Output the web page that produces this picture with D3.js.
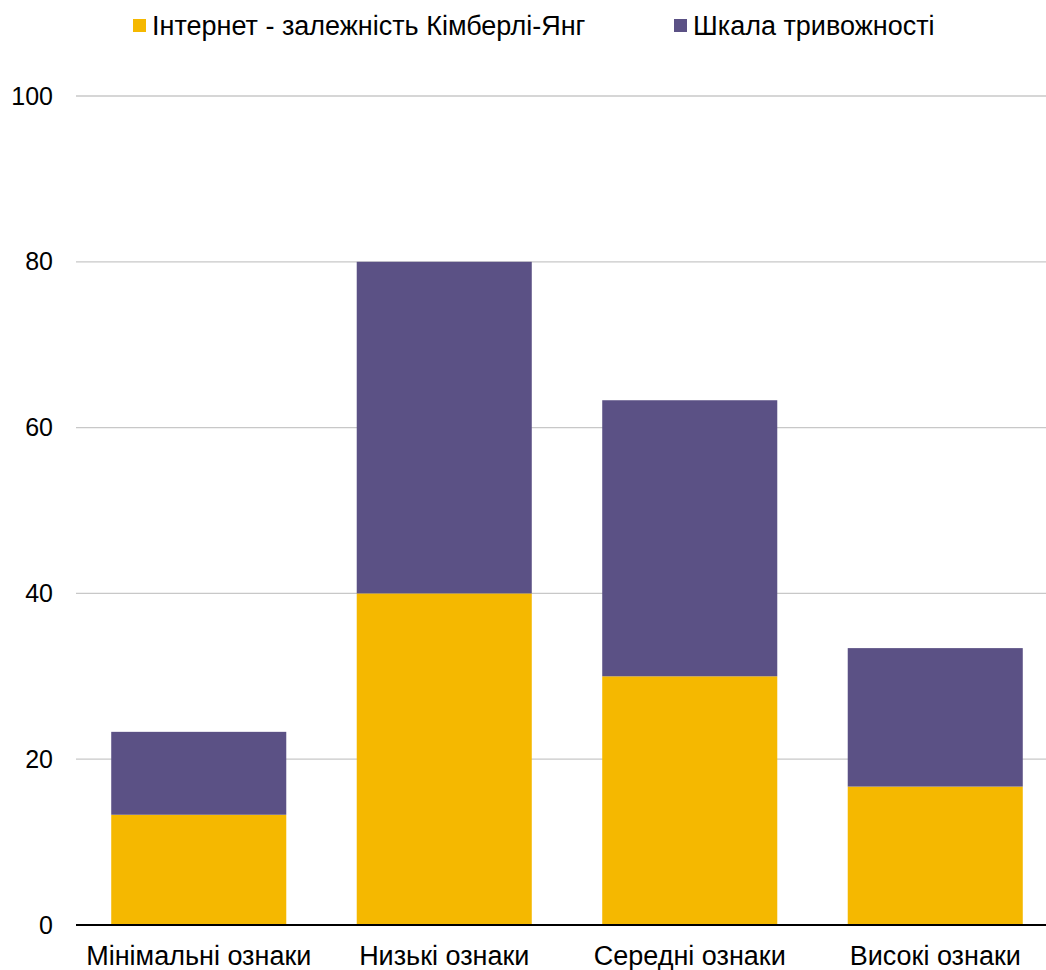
<!DOCTYPE html>
<html><head><meta charset="utf-8">
<script src="https://cdn.jsdelivr.net/npm/d3@7"></script>
<style>body{margin:0;background:#fff;} svg{display:block;font-family:"Liberation Sans",Arial,sans-serif;}</style>
</head><body>
<svg id="chart" width="1046" height="970"></svg>
<script>
const categories = ["Мінімальні ознаки", "Низькі ознаки", "Середні ознаки", "Високі ознаки"];
const seriesNames = ["Інтернет - залежність Кімберлі-Янг", "Шкала тривожності"];
const internetValues = [13.3, 40, 30, 16.7];
const anxietyValues = [10, 40, 33.3, 16.7];
const yTicks = [0, 20, 40, 60, 80, 100];
const colors = ["#F5B800", "#5B5185"];

(function () {
const FONT = "Liberation Sans, Arial, sans-serif";
const svg = d3.select("#chart");
const mLeft = 76, mRight = 1058, mTop = 96, mBottom = 925;
const x = d3.scaleBand().domain(categories).range([mLeft, mRight]).paddingInner(0.287).paddingOuter(0.1435);
const y = d3.scaleLinear().domain([0, 100]).range([mBottom, mTop]);

// gridlines
svg.append("g").selectAll("line").data(yTicks.filter(d => d > 0)).join("line")
  .attr("x1", mLeft).attr("x2", 1046)
  .attr("y1", d => y(d)).attr("y2", d => y(d))
  .attr("stroke", "#C8C8C8").attr("stroke-width", 1.3);

const rows = categories.map((c, i) => ({cat: c, internet: internetValues[i], anxiety: anxietyValues[i]}));
const stack = d3.stack().keys(["internet", "anxiety"])(rows);

svg.append("g").selectAll("g").data(stack).join("g")
  .attr("fill", (d, i) => colors[i])
  .selectAll("rect").data(d => d).join("rect")
  .attr("x", d => x(d.data.cat))
  .attr("width", x.bandwidth())
  .attr("y", d => y(d[1]))
  .attr("height", d => y(d[0]) - y(d[1]));

// y axis labels
const yAxis = d3.axisLeft(y).tickValues(yTicks).tickSize(0).tickPadding(0);
const yg = svg.append("g").attr("transform", `translate(53,0)`).call(yAxis);
yg.select(".domain").remove();
yg.selectAll("text").attr("font-size", 25).attr("fill", "#000").attr("font-family", FONT);

// x axis
const xAxis = d3.axisBottom(x).tickSize(0).tickPadding(0);
const xg = svg.append("g").attr("transform", `translate(0,${mBottom})`).call(xAxis);
xg.select(".domain").remove();
xg.selectAll("text").attr("font-size", 27).attr("fill", "#000").attr("font-family", FONT)
  .attr("dy", null).attr("y", 39.5);
svg.append("line").attr("x1", mLeft).attr("x2", 1046).attr("y1", mBottom).attr("y2", mBottom)
  .attr("stroke", "#000").attr("stroke-width", 2.2);

// legend
const legendX = [133, 674];
const lg = svg.append("g").selectAll("g").data(seriesNames).join("g")
  .attr("transform", (d, i) => `translate(${legendX[i]},0)`);
lg.append("rect").attr("x", 0).attr("y", 19).attr("width", 13).attr("height", 13).attr("fill", (d, i) => colors[i]);
lg.append("text").attr("x", 19).attr("y", 35).attr("font-size", 27).attr("font-family", FONT).attr("fill", "#000").text(d => d);
})();
</script>
</body></html>
